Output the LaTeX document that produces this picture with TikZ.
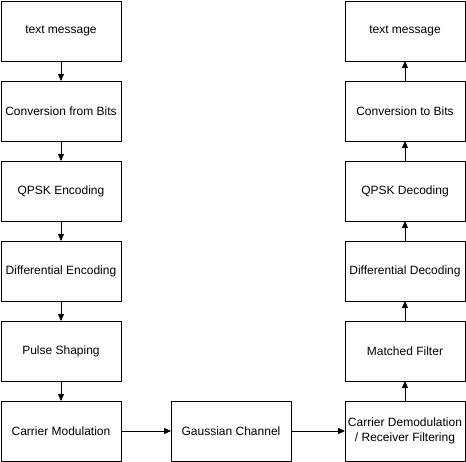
\documentclass[tikz,border=0pt]{standalone}
\usepackage{fontspec}
\setmainfont{Liberation Sans}
\usetikzlibrary{positioning,arrows.meta}

\tikzset{
  blk/.style={draw, thick, minimum width=120pt, minimum height=60pt, align=center,
    font=\fontsize{12}{15}\selectfont, inner sep=1pt, outer sep=0pt},
  flow/.style={thick, -{Triangle[length=7pt,width=6pt]}}
}

\begin{document}
\begin{tikzpicture}[x=1pt,y=1pt, node distance=20pt and 50pt]

				\useasboundingbox (0,0) rectangle (466,-461);

				% transmitter
				\node[blk] (txt)  at (61,-31) {text message};
				\node[blk, below=of txt]  (bits) {Conversion from Bits};
				\node[blk, below=of bits] (qenc) {QPSK Encoding};
				\node[blk, below=of qenc] (denc) {Differential Encoding};
				\node[blk, below=of denc] (pulse) {Pulse Shaping};
				\node[blk, below=of pulse] (cmod) {Carrier Modulation};

				% channel
				\node[blk, right=of cmod] (chan) {Gaussian Channel};

				% receiver
				\node[blk] (cdem) at (405,-431) {Carrier Demodulation\\ / Receiver Filtering};
				\node[blk, above=of cdem] (mf)   {Matched Filter};
				\node[blk, above=of mf]   (ddec) {Differential Decoding};
				\node[blk, above=of ddec] (qdec) {QPSK Decoding};
				\node[blk, above=of qdec] (tobits) {Conversion to Bits};
				\node[blk, above=of tobits] (rtxt) {text message};

				\draw[flow] (txt) -- (bits);
				\draw[flow] (bits) -- (qenc);
				\draw[flow] (qenc) -- (denc);
				\draw[flow] (denc) -- (pulse);
				\draw[flow] (pulse) -- (cmod);
				\draw[flow] (cmod) -- (chan);
				\draw[flow] (chan) -- (cdem);
				\draw[flow] (cdem) -- (mf);
				\draw[flow] (mf) -- (ddec);
				\draw[flow] (ddec) -- (qdec);
				\draw[flow] (qdec) -- (tobits);
				\draw[flow] (tobits) -- (rtxt);

\end{tikzpicture}
\end{document}
